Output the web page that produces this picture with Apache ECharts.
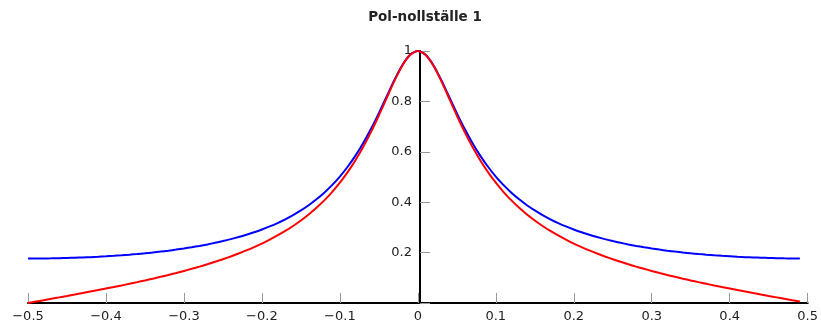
<!DOCTYPE html>
<html>
<head>
<meta charset="utf-8">
<script src="https://cdn.jsdelivr.net/npm/echarts@6/dist/echarts.min.js"></script>
<style>html,body{margin:0;padding:0;background:#fff;}#c{width:821px;height:325px;}</style>
</head>
<body>
<div id="c"></div>
<script>
var titleText = 'Pol-nollställe 1';
var xValues = [-0.50,-0.49,-0.48,-0.47,-0.46,-0.45,-0.44,-0.43,-0.42,-0.41,
-0.40,-0.39,-0.38,-0.37,-0.36,-0.35,-0.34,-0.33,-0.32,-0.31,
-0.30,-0.29,-0.28,-0.27,-0.26,-0.25,-0.24,-0.23,-0.22,-0.21,
-0.20,-0.19,-0.18,-0.17,-0.16,-0.15,-0.14,-0.13,-0.12,-0.11,
-0.10,-0.09,-0.08,-0.07,-0.06,-0.05,-0.04,-0.03,-0.02,-0.01,
0.00,0.01,0.02,0.03,0.04,0.05,0.06,0.07,0.08,0.09,
0.10,0.11,0.12,0.13,0.14,0.15,0.16,0.17,0.18,0.19,
0.20,0.21,0.22,0.23,0.24,0.25,0.26,0.27,0.28,0.29,
0.30,0.31,0.32,0.33,0.34,0.35,0.36,0.37,0.38,0.39,
0.40,0.41,0.42,0.43,0.44,0.45,0.46,0.47,0.48,0.49];
var blueValues = [0.1765,0.1766,0.1768,0.1772,0.1778,0.1786,0.1796,0.1807,0.1820,0.1835,
0.1853,0.1872,0.1893,0.1917,0.1944,0.1973,0.2004,0.2039,0.2077,0.2119,
0.2164,0.2213,0.2266,0.2325,0.2388,0.2458,0.2534,0.2617,0.2708,0.2808,
0.2918,0.3039,0.3173,0.3322,0.3488,0.3673,0.3881,0.4115,0.4379,0.4678,
0.5018,0.5406,0.5848,0.6349,0.6913,0.7535,0.8196,0.8854,0.9438,0.9850,
1.0000,0.9850,0.9438,0.8854,0.8196,0.7535,0.6913,0.6349,0.5848,0.5406,
0.5018,0.4678,0.4379,0.4115,0.3881,0.3673,0.3488,0.3322,0.3173,0.3039,
0.2918,0.2808,0.2708,0.2617,0.2534,0.2458,0.2388,0.2325,0.2266,0.2213,
0.2164,0.2119,0.2077,0.2039,0.2004,0.1973,0.1944,0.1917,0.1893,0.1872,
0.1853,0.1835,0.1820,0.1807,0.1796,0.1786,0.1778,0.1772,0.1768,0.1766];
var redValues = [0.0000,0.0056,0.0111,0.0167,0.0223,0.0279,0.0336,0.0394,0.0453,0.0512,
0.0573,0.0634,0.0697,0.0762,0.0828,0.0896,0.0966,0.1038,0.1113,0.1191,
0.1272,0.1356,0.1445,0.1537,0.1635,0.1738,0.1847,0.1963,0.2086,0.2218,
0.2360,0.2513,0.2679,0.2859,0.3056,0.3273,0.3511,0.3776,0.4071,0.4401,
0.4773,0.5192,0.5664,0.6197,0.6791,0.7442,0.8131,0.8815,0.9419,0.9845,
1.0000,0.9845,0.9419,0.8815,0.8131,0.7442,0.6791,0.6197,0.5664,0.5192,
0.4773,0.4401,0.4071,0.3776,0.3511,0.3273,0.3056,0.2859,0.2679,0.2513,
0.2360,0.2218,0.2086,0.1963,0.1847,0.1738,0.1635,0.1537,0.1445,0.1356,
0.1272,0.1191,0.1113,0.1038,0.0966,0.0896,0.0828,0.0762,0.0697,0.0634,
0.0573,0.0512,0.0453,0.0394,0.0336,0.0279,0.0223,0.0167,0.0111,0.0056];

function pairs(xs, ys) { return xs.map(function (x, i) { return [x, ys[i]]; }); }
function fmtX(v) {
  if (Math.abs(v) < 1e-9) return '0';
  var s = Math.abs(v).toFixed(1);
  return v < 0 ? '\u2212' + s : s;
}
function fmtY(v) {
  if (Math.abs(v) < 1e-9) return '';
  if (Math.abs(v - 1) < 1e-9) return '1';
  return v.toFixed(1);
}
var FONT = '"DejaVu Sans", sans-serif';
var GRID_LEFT = 28, GRID_RIGHT = 9;
var chartEl = document.getElementById('c');
var plotWidth = chartEl.clientWidth - GRID_LEFT - GRID_RIGHT;
var X_MIN = -0.5, X_MAX = 0.5;
// move the y axis from the grid's left edge to x = 0
var yAxisOffset = -plotWidth * (0 - X_MIN) / (X_MAX - X_MIN);
var chart = echarts.init(chartEl, null, {renderer: 'canvas'});
chart.setOption({
  animation: false,
  backgroundColor: '#ffffff',
  title: {
    text: titleText, left: 420, top: 5, textAlign: 'center',
    textStyle: {fontFamily: FONT, fontSize: 13.5, fontWeight: 'bold', color: '#222'}
  },
  grid: {left: GRID_LEFT, right: GRID_RIGHT, top: 51, bottom: 22, containLabel: false},
  xAxis: {
    type: 'value', min: X_MIN, max: X_MAX, interval: 0.1,
    axisLine: {onZero: true, lineStyle: {color: '#000', width: 2}},
    axisTick: {inside: true, length: 10, lineStyle: {color: '#999', width: 1}},
    axisLabel: {formatter: fmtX, margin: 7, fontFamily: FONT, fontSize: 13, color: '#222'},
    splitLine: {show: false}
  },
  yAxis: {
    type: 'value', min: 0, max: 1, interval: 0.2,
    position: 'left', offset: yAxisOffset,
    axisLine: {show: true, onZero: false, lineStyle: {color: '#000', width: 2}},
    axisTick: {show: true, inside: true, length: 10, lineStyle: {color: '#999', width: 1}},
    axisLabel: {formatter: fmtY, margin: 8, fontFamily: FONT, fontSize: 13, color: '#222'},
    splitLine: {show: false}
  },
  series: [
    {type: 'line', data: pairs(xValues, blueValues), showSymbol: false, smooth: 0.25,
     lineStyle: {color: '#0000ff', width: 2}, z: 3},
    {type: 'line', data: pairs(xValues, redValues), showSymbol: false, smooth: 0.25,
     lineStyle: {color: '#ff0000', width: 2}, z: 4}
  ]
});
</script>
</body>
</html>
